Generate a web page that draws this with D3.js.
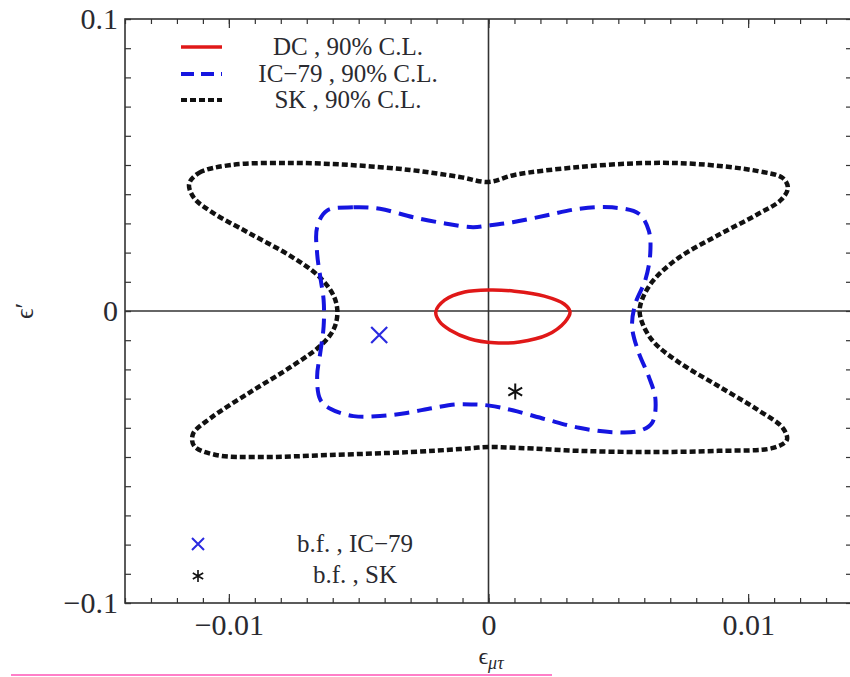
<!DOCTYPE html>
<html><head><meta charset="utf-8">
<script src="https://cdn.jsdelivr.net/npm/d3@7"></script>
<style>body{margin:0;background:#fff}svg{display:block}</style>
</head><body><svg id="c" width="850" height="677"></svg>
<script>
// ---------- data ----------
const xDomain = [-0.014, 0.014];
const yDomain = [-0.1, 0.1];
const xMajorTicks = [-0.01, 0, 0.01];
const xTickLabels = ["\u22120.01", "0", "0.01"];
const yMajorTicks = [-0.1, 0, 0.1];
const yTickLabels = ["\u22120.1", "0", "0.1"];

const seriesNames = ["DC , 90% C.L.", "IC\u221279 , 90% C.L.", "SK , 90% C.L."];
const markerNames = ["b.f. , IC\u221279", "b.f. , SK"];

// DC 90% C.L. contour
const dcX = [-0.00203,-0.00169,-0.00092,0.00004,0.00100,0.00215,0.00291,0.00314,0.00295,0.00226,0.00119,0.00023,-0.00073,-0.00149,-0.00188];
const dcY = [-0.0003,0.0037,0.0065,0.0072,0.0068,0.0051,0.0024,-0.0003,-0.0037,-0.0082,-0.0106,-0.0109,-0.0095,-0.0065,-0.0037];

// IC-79 90% C.L. contour
const icX = [-0.00622,-0.00520,-0.00418,-0.00290,-0.00162,-0.00060,0.00004,0.00093,0.00221,0.00349,0.00476,0.00579,0.00617,0.00623,0.00604,0.00566,0.00553,0.00579,0.00617,0.00643,0.00630,0.00579,0.00476,0.00349,0.00221,0.00093,0.00004,-0.00060,-0.00124,-0.00213,-0.00315,-0.00418,-0.00520,-0.00609,-0.00648,-0.00660,-0.00648,-0.00635,-0.00635,-0.00648,-0.00660,-0.00660];
const icY = [0.0344,0.0355,0.0350,0.0321,0.0299,0.0287,0.0293,0.0304,0.0327,0.0350,0.0355,0.0333,0.0276,0.0197,0.0106,0.0026,-0.0053,-0.0144,-0.0224,-0.0303,-0.0383,-0.0411,-0.0415,-0.0400,-0.0371,-0.0340,-0.0324,-0.0320,-0.0320,-0.0332,-0.0349,-0.0360,-0.0360,-0.0335,-0.0303,-0.0224,-0.0144,-0.0053,0.0037,0.0117,0.0197,0.0287];

// SK 90% C.L. contour
const skX = [-0.01153,-0.01115,-0.00992,-0.00762,-0.00533,-0.00303,-0.00111,0.0,0.00100,0.00349,0.00617,0.00808,0.01038,0.01134,0.01153,0.01126,0.01038,0.00885,0.00732,0.00636,0.00594,0.00582,0.00594,0.00636,0.00732,0.00885,0.01038,0.01134,0.01149,0.01096,0.00885,0.00617,0.00349,0.00119,0.0,-0.00111,-0.00303,-0.00609,-0.00877,-0.01050,-0.01134,-0.01138,-0.01069,-0.00916,-0.00755,-0.00640,-0.00594,-0.00582,-0.00598,-0.00655,-0.00762,-0.00916,-0.01061,-0.01134];
const skY = [0.0435,0.0473,0.0500,0.0507,0.0500,0.0483,0.0459,0.0442,0.0466,0.0493,0.0507,0.0503,0.0479,0.0455,0.0421,0.0380,0.0332,0.0260,0.0182,0.0106,0.0045,0.0,-0.0045,-0.0106,-0.0175,-0.0257,-0.0339,-0.0401,-0.0442,-0.0469,-0.0479,-0.0483,-0.0479,-0.0469,-0.0466,-0.0473,-0.0483,-0.0493,-0.0500,-0.0493,-0.0462,-0.0421,-0.0366,-0.0277,-0.0188,-0.0113,-0.0058,0.0,0.0055,0.0120,0.0188,0.0264,0.0336,0.0387];

// best-fit points
const bfIcX = [-0.00421], bfIcY = [-0.0082];
const bfSkX = [0.00103], bfSkY = [-0.0276];

// ---------- drawing ----------
const svg = d3.select("#c");
const L = 125, R = 852, T = 19, B = 603;
const x = d3.scaleLinear().domain(xDomain).range([L, R]);
const y = d3.scaleLinear().domain(yDomain).range([B, T]);
const serif = "'Liberation Serif','DejaVu Serif',serif";
const axisCol = "#333";
const txtCol = "#2a2a30";

// zero lines
svg.append("line").attr("x1", L).attr("x2", R).attr("y1", y(0)).attr("y2", y(0))
  .attr("stroke", axisCol).attr("stroke-width", 1.6);
svg.append("line").attr("x1", x(0)).attr("x2", x(0)).attr("y1", T).attr("y2", B)
  .attr("stroke", axisCol).attr("stroke-width", 1.6);

// frame
svg.append("rect").attr("x", L).attr("y", T).attr("width", R - L).attr("height", B - T)
  .attr("fill", "none").attr("stroke", axisCol).attr("stroke-width", 1.6);

function styleAxis(g) {
  g.select(".domain").remove();
  g.selectAll(".tick line").attr("stroke", axisCol).attr("stroke-width", 1.2);
  g.selectAll("text").attr("font-family", serif).attr("font-size", 30).attr("fill", txtCol);
}
const xMinor = x.ticks(28), yMinor = y.ticks(20);
// bottom minor + major
svg.append("g").attr("transform", `translate(0,${B})`)
  .call(d3.axisBottom(x).tickValues(xMinor).tickSize(-5).tickFormat(""))
  .call(styleAxis);
svg.append("g").attr("transform", `translate(0,${B})`)
  .call(d3.axisBottom(x).tickValues(xMajorTicks).tickSize(-9).tickPadding(11)
    .tickFormat((d, i) => xTickLabels[i]))
  .call(styleAxis);
// top
svg.append("g").attr("transform", `translate(0,${T})`)
  .call(d3.axisTop(x).tickValues(xMinor).tickSize(-5).tickFormat("")).call(styleAxis);
svg.append("g").attr("transform", `translate(0,${T})`)
  .call(d3.axisTop(x).tickValues(xMajorTicks).tickSize(-9).tickFormat("")).call(styleAxis);
// left
svg.append("g").attr("transform", `translate(${L},0)`)
  .call(d3.axisLeft(y).tickValues(yMinor).tickSize(-6).tickFormat("")).call(styleAxis);
svg.append("g").attr("transform", `translate(${L},0)`)
  .call(d3.axisLeft(y).tickValues(yMajorTicks).tickSize(-6).tickPadding(7)
    .tickFormat((d, i) => yTickLabels[i]))
  .call(styleAxis);
// right
svg.append("g").attr("transform", `translate(${R},0)`)
  .call(d3.axisRight(y).tickValues(yMinor).tickSize(-6).tickFormat("")).call(styleAxis);

// contours
const mk = (xs, ys) => xs.map((v, i) => [v, ys[i]]);
const line = d3.line().x(d => x(d[0])).y(d => y(d[1])).curve(d3.curveCatmullRomClosed.alpha(0.5));

svg.append("path").datum(mk(skX, skY)).attr("d", line)
  .attr("fill", "none").attr("stroke", "#111").attr("stroke-width", 4.5).attr("stroke-dasharray", "6,3");
svg.append("path").datum(mk(icX, icY)).attr("d", line)
  .attr("fill", "none").attr("stroke", "#1515e0").attr("stroke-width", 4).attr("stroke-dasharray", "15,8");
svg.append("path").datum(mk(dcX, dcY)).attr("d", line)
  .attr("fill", "none").attr("stroke", "#e01818").attr("stroke-width", 3.5);

// markers
function cross(g, cx, cy, r, col, w) {
  g.append("path").attr("d", `M${cx - r},${cy - r}L${cx + r},${cy + r}M${cx - r},${cy + r}L${cx + r},${cy - r}`)
    .attr("stroke", col).attr("stroke-width", w).attr("fill", "none");
}
function star(g, cx, cy, r, col, w) {
  let d = "";
  [90, 30, -30].forEach(a => {
    const t = a * Math.PI / 180, dx = r * Math.cos(t), dy = r * Math.sin(t);
    d += `M${cx - dx},${cy - dy}L${cx + dx},${cy + dy}`;
  });
  g.append("path").attr("d", d).attr("stroke", col).attr("stroke-width", w).attr("fill", "none");
}
bfIcX.forEach((v, i) => cross(svg, x(v), y(bfIcY[i]), 8, "#2a2ae0", 2.2));
bfSkX.forEach((v, i) => star(svg, x(v), y(bfSkY[i]), 8, "#111", 2));

// legend (top)
const legColors = ["#e01818", "#1515e0", "#111"];
const legDash = [null, "13,7", "6,3"];
const legY = [47, 74, 100];
seriesNames.forEach((s, i) => {
  svg.append("line").attr("x1", 181).attr("x2", 222).attr("y1", legY[i]).attr("y2", legY[i])
    .attr("stroke", legColors[i]).attr("stroke-width", i === 0 ? 3.5 : 4)
    .attr("stroke-dasharray", legDash[i]);
  svg.append("text").attr("x", 348).attr("y", legY[i] + 8).attr("text-anchor", "middle")
    .attr("font-family", serif).attr("font-size", 25).attr("fill", txtCol).text(s);
});
// legend (bottom)
cross(svg, 198, 544, 6, "#2a2ae0", 2);
star(svg, 198, 576, 6, "#111", 1.6);
markerNames.forEach((s, i) => {
  svg.append("text").attr("x", 355).attr("y", [552, 583][i]).attr("text-anchor", "middle")
    .attr("font-family", serif).attr("font-size", 25).attr("fill", txtCol).text(s);
});

// axis labels
const xl = svg.append("text").attr("x", 491).attr("y", 664).attr("text-anchor", "middle")
  .attr("font-family", serif).attr("font-size", 24).attr("fill", txtCol);
xl.append("tspan").text("\u03f5");
xl.append("tspan").attr("font-size", 18).attr("font-style", "italic").attr("dy", 5).text("\u03bc\u03c4");
svg.append("text").attr("transform", "translate(33,311) rotate(-90)").attr("text-anchor", "middle")
  .attr("font-family", serif).attr("font-size", 26).attr("fill", txtCol).text("\u03f5\u2032");

// pink underline
svg.append("line").attr("x1", 11).attr("x2", 552).attr("y1", 675).attr("y2", 675)
  .attr("stroke", "#ff7fc8").attr("stroke-width", 2);
</script></body></html>
